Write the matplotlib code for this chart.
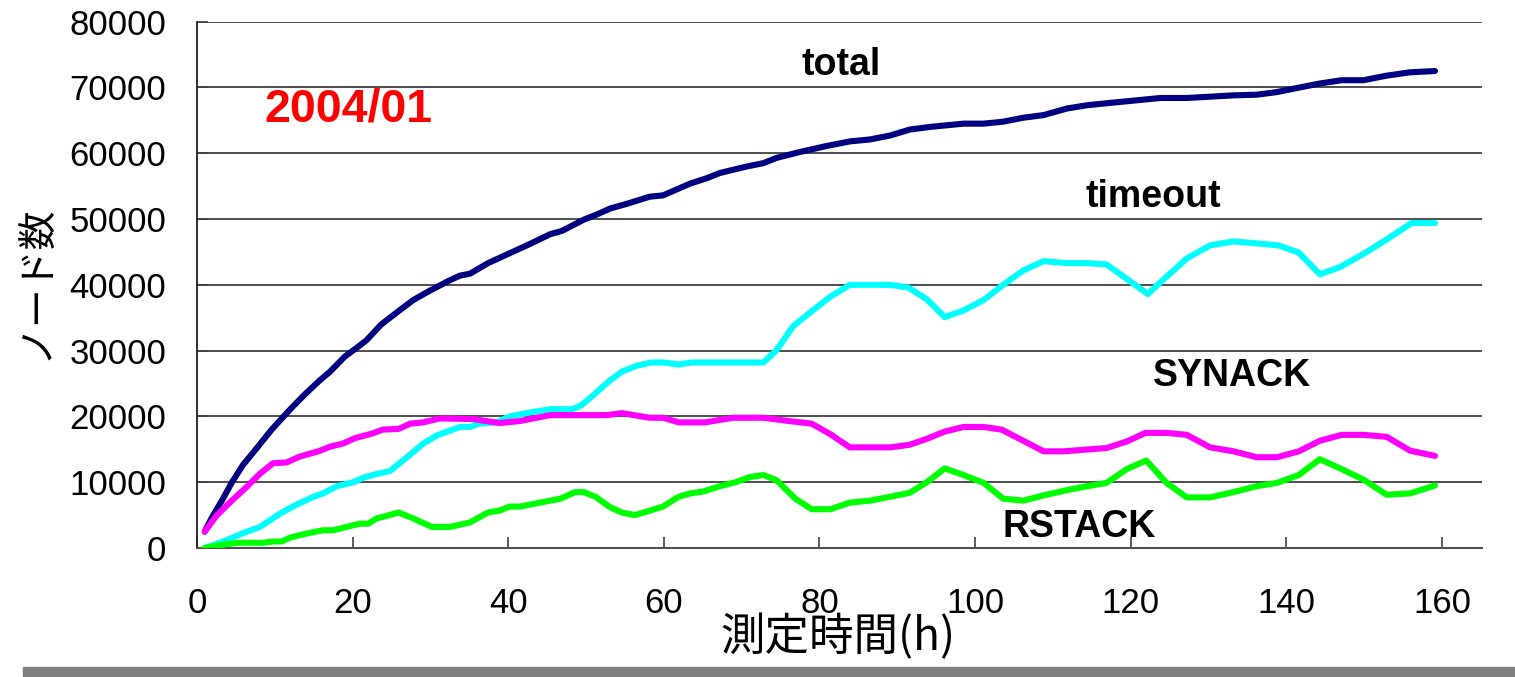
import matplotlib
matplotlib.use("Agg")
import matplotlib.pyplot as plt
from matplotlib.patches import Rectangle

# hours, node counts
total_h = [1, 1.9, 3.2, 4.5, 5.9, 7.7, 9.6, 12.0, 13.9, 15.8, 17.1, 19.0, 20.5, 21.8, 23.7,
           25.9, 27.8, 29.9, 32.5, 33.8, 35.1, 37.4, 39.8, 42.4, 45.4, 46.9, 49.7, 51.4, 53.1,
           55.2, 58.2, 59.9, 63.4, 65.5, 67.2, 70.7, 72.8, 74.5, 77.5, 80.9, 83.9, 86.5, 89.1,
           91.6, 94.2, 98.5, 101.1, 103.6, 106.2, 108.8, 111.8, 114.4, 116.9, 119.5, 123.8,
           127.2, 130.2, 133.2, 136.2, 138.8, 141.3, 144.3, 147.1, 149.9, 152.9, 155.9, 159.1]
total = [2500, 4600, 7200, 10000, 12600, 15200, 18000, 21100, 23400, 25500, 26800, 29100,
         30400, 31600, 34000, 36000, 37700, 39100, 40700, 41400, 41700, 43300, 44600, 46000,
         47700, 48200, 49900, 50700, 51600, 52300, 53400, 53600, 55400, 56200, 57000, 58000,
         58500, 59300, 60200, 61100, 61800, 62100, 62700, 63600, 64000, 64500, 64500, 64800,
         65400, 65800, 66800, 67300, 67600, 67900, 68400, 68400, 68600, 68800, 68900, 69300,
         69900, 70600, 71100, 71100, 71800, 72300, 72500]

timeout_h = [1, 3.4, 6.0, 8.1, 10.9, 12.8, 15.0, 16.2, 18.0, 20.1, 21.4, 22.9, 24.8, 27.4,
             29.1, 30.8, 33.8, 35.1, 36.2, 38.5, 40.2, 42.8, 45.4, 48.2, 49.4, 50.9, 52.9,
             54.6, 56.5, 58.4, 59.9, 61.9, 63.6, 72.8, 74.5, 76.6, 78.8, 81.4, 83.9, 89.1,
             91.4, 93.8, 96.1, 98.5, 101.1, 103.6, 106.2, 108.8, 111.8, 114.4, 116.9, 119.5,
             122.2, 124.0, 127.2, 130.2, 133.2, 136.2, 139.0, 141.6, 144.3, 146.9, 149.9,
             152.9, 156.1, 159.1]
timeout = [0, 1000, 2300, 3200, 5400, 6600, 7800, 8300, 9400, 10000, 10700, 11200, 11700,
           14200, 15900, 17100, 18400, 18400, 18900, 19100, 20000, 20600, 21100, 21100, 21700,
           23200, 25300, 26800, 27700, 28200, 28200, 27900, 28200, 28200, 30100, 33700, 35800,
           38200, 40000, 40000, 39600, 37800, 35100, 36100, 37700, 40000, 42200, 43600, 43300,
           43300, 43100, 40900, 38600, 40600, 44000, 46000, 46600, 46300, 46000, 44900, 41600,
           42700, 44700, 46900, 49400, 49400]

synack_h = [1, 2.5, 4.2, 6.4, 8.1, 9.8, 11.5, 13.2, 15.6, 17.1, 18.8, 20.3, 22.5, 23.9, 25.9,
            27.4, 29.1, 31.2, 35.5, 38.9, 41.5, 45.4, 52.7, 54.6, 58.2, 59.9, 61.9, 65.3,
            68.9, 72.8, 75.4, 79.0, 81.4, 83.9, 89.1, 91.6, 93.8, 96.1, 98.5, 101.1, 103.4,
            106.2, 108.8, 111.4, 116.9, 119.5, 121.9, 124.6, 127.2, 130.2, 133.2, 136.2,
            138.8, 141.6, 144.3, 147.1, 149.9, 152.9, 155.9, 159.1]
synack = [2500, 4900, 6900, 9300, 11300, 12900, 13000, 13900, 14700, 15400, 15900, 16700,
          17400, 18000, 18100, 18900, 19100, 19700, 19600, 19000, 19300, 20200, 20200, 20500,
          19800, 19800, 19100, 19100, 19800, 19800, 19400, 18900, 17300, 15300, 15300, 15700,
          16600, 17700, 18400, 18400, 18000, 16300, 14700, 14700, 15200, 16200, 17500, 17500,
          17200, 15300, 14700, 13800, 13800, 14700, 16300, 17200, 17200, 16900, 14800, 14000]

rstack_h = [1, 3.8, 5.5, 8.5, 9.8, 10.9, 12.0, 14.1, 16.2, 17.5, 19.2, 20.9, 22.0, 23.1, 24.4,
            25.9, 27.6, 30.2, 32.5, 35.1, 37.4, 38.9, 40.2, 41.5, 46.7, 48.6, 49.7, 51.2,
            53.1, 54.6, 56.3, 59.9, 61.9, 63.4, 65.1, 67.2, 69.2, 71.1, 72.8, 74.5, 76.9,
            79.0, 81.4, 83.9, 86.5, 89.1, 91.6, 93.8, 96.1, 98.5, 101.1, 103.6, 106.2, 108.8,
            111.8, 114.4, 116.9, 119.5, 122.0, 124.6, 127.2, 130.2, 133.2, 136.2, 138.8,
            141.6, 144.3, 147.1, 149.9, 152.9, 155.9, 159.1]
rstack = [0, 600, 800, 800, 1000, 1000, 1600, 2200, 2700, 2700, 3200, 3700, 3700, 4500, 4900,
          5400, 4600, 3200, 3200, 3900, 5400, 5700, 6300, 6300, 7500, 8500, 8500, 7800, 6200,
          5400, 5000, 6300, 7800, 8300, 8600, 9400, 10000, 10800, 11100, 10300, 7500, 5900,
          5900, 6900, 7200, 7800, 8400, 10000, 12100, 11100, 9900, 7500, 7200, 8000, 8800,
          9400, 9900, 12000, 13300, 9900, 7700, 7700, 8500, 9400, 9900, 11100, 13500, 12000,
          10400, 8100, 8300, 9500]

series = [("total", total_h, total, "#000080"),
          ("timeout", timeout_h, timeout, "#00FFFF"),
          ("SYNACK", synack_h, synack, "#FF00FF"),
          ("RSTACK", rstack_h, rstack, "#00FF00")]

# label positions in data coords
labels = [("total", 82.8, 73400), ("timeout", 122.9, 53300),
          ("SYNACK", 133.0, 26100), ("RSTACK", 113.4, 3200)]

plt.rcParams['font.family'] = ['Liberation Sans', 'DejaVu Sans']

fig = plt.figure(figsize=(15.15, 6.77), dpi=100)
ax = fig.add_axes([0.130, 0.1905, 0.848, 0.7775])

for yv in range(10000, 90000, 10000):
    ax.axhline(yv, color='#404040', lw=1.3, zorder=1)

for name, xs, ys, col in series:
    ax.plot(xs, ys, color=col, lw=4.4, solid_capstyle='round', solid_joinstyle='round', zorder=3)

for txt, x, y in labels:
    ax.text(x, y, txt, fontsize=27, fontweight='bold', ha='center', va='center', zorder=4)
ax.text(19.4, 66600, "2004/01", fontsize=33.5, fontweight='bold', color='#FF0000',
        ha='center', va='center', zorder=4)

ax.set_xlim(0, 165.1)
ax.set_ylim(0, 80000)
ax.set_xticks(range(0, 161, 20))
ax.set_yticks(range(0, 80001, 10000))
ax.tick_params(axis='both', direction='in', length=8, width=1.2, color='#404040',
               labelsize=25)
ax.tick_params(axis='x', pad=28)
ax.tick_params(axis='y', pad=22)

for s in ['top', 'right']:
    ax.spines[s].set_visible(False)
ax.spines['left'].set_color('#202020')
ax.spines['bottom'].set_color('#505050')
ax.spines['left'].set_linewidth(1.3)
ax.spines['bottom'].set_linewidth(1.5)

cjk = ['Noto Sans CJK JP', 'DejaVu Sans']
fig.text(36 / 1515, 1 - 282 / 677, "ノード数", rotation=90, fontsize=28,
         family=cjk, ha='center', va='center')
fig.text(838 / 1515, 1 - 637 / 677, "測定時間(h)", fontsize=32,
         family=cjk, ha='center', va='center')

fig.patches.append(Rectangle((23 / 1515, 0), 1, 10 / 677, transform=fig.transFigure,
                             color='#808080', zorder=0))

fig.savefig("out.png", dpi=100)
